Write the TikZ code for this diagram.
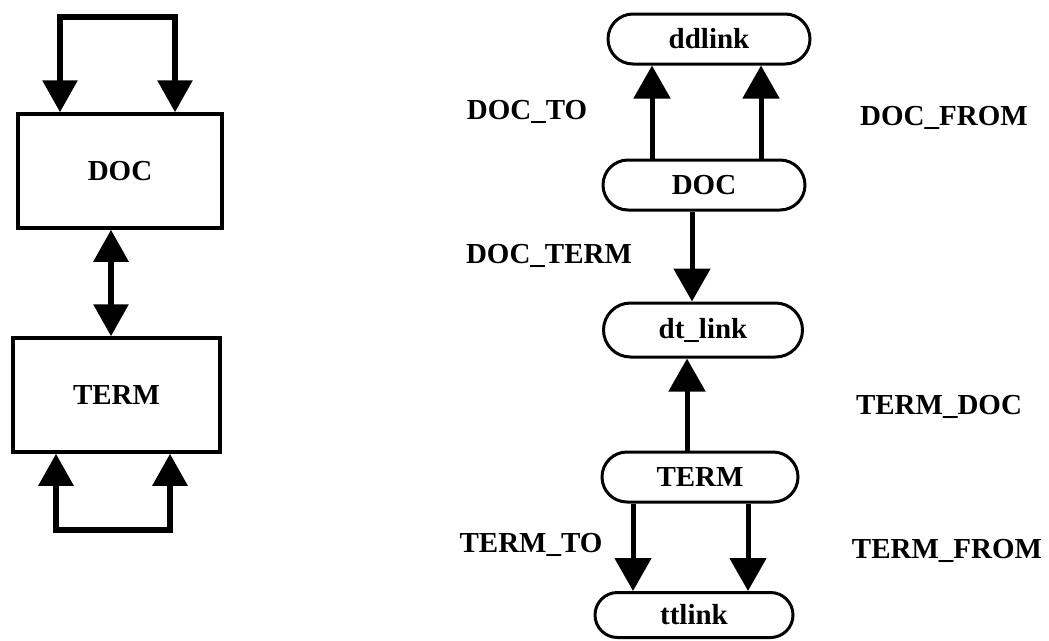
\documentclass[tikz,border=0pt]{standalone}
\usepackage{fontspec}
\setmainfont{Liberation Serif}
\usetikzlibrary{arrows.meta,shapes.misc}
\begin{document}
\begin{tikzpicture}[x=1pt,y=-1pt,
  every node/.style={font=\fontsize{29}{34}\selectfont\bfseries},
  box/.style={draw, line width=3.5pt, minimum width=204pt, minimum height=114pt, inner sep=0pt},
  pill/.style={draw, rounded rectangle, line width=3pt, minimum width=200pt, minimum height=50pt, inner sep=0pt},
  fat/.style={line width=6pt, {Triangle[width=34pt,length=32pt]}-{Triangle[width=34pt,length=32pt]}},
  flow/.style={line width=5pt, -{Triangle[width=36pt,length=33pt]}},
  lbl/.style={inner sep=0pt}
]
\useasboundingbox (0,0) rectangle (1049,640);

% left diagram
\node[box] (docbox) at (120,171) {DOC};
\node[box, minimum width=207pt] (termbox) at (116.5,395) {TERM};
\coordinate (tl) at (60,17);
\coordinate (tr) at (175,17);
\draw[fat] (docbox.north -| tl) -- (tl) -- (tr) -- (docbox.north -| tr);
\coordinate (dm) at (111,280);
\draw[fat] (docbox.south -| dm) -- (termbox.north -| dm);
\coordinate (bl) at (56,530);
\coordinate (br) at (170,530);
\draw[fat] (termbox.south -| bl) -- (bl) -- (br) -- (termbox.south -| br);

% right diagram
\node[pill, minimum width=202pt] (ddlink) at (709,39) {ddlink};
\node[pill, minimum width=202pt] (rdoc) at (704,185) {DOC};
\node[pill, minimum width=199pt, minimum height=54pt] (dtlink) at (703,330) {dt\_link};
\node[pill, minimum width=196pt] (rterm) at (700,477) {TERM};
\node[pill, minimum width=198pt, minimum height=45pt] (ttlink) at (694,615) {ttlink};

\coordinate (a1) at (652,0);
\coordinate (a2) at (761,0);
\coordinate (a3) at (692,0);
\coordinate (a4) at (687,0);
\coordinate (a5) at (633,0);
\coordinate (a6) at (748,0);
\draw[flow] (rdoc.north -| a1) -- (ddlink.south -| a1);
\draw[flow] (rdoc.north -| a2) -- (ddlink.south -| a2);
\draw[flow] (rdoc.south -| a3) -- (dtlink.north -| a3);
\draw[flow] (rterm.north -| a4) -- (dtlink.south -| a4);
\draw[flow] (rterm.south -| a5) -- (ttlink.north -| a5);
\draw[flow] (rterm.south -| a6) -- (ttlink.north -| a6);

% labels
\node[lbl] (ldocto) at (527,112) {DOC\_TO};
\node[lbl] (ldocfrom) at (944,118) {DOC\_FROM};
\node[lbl] (ldocterm) at (549,256) {DOC\_TERM};
\node[lbl] (ltermdoc) at (939,407) {TERM\_DOC};
\node[lbl] (ltermto) at (531,545) {TERM\_TO};
\node[lbl] (ltermfrom) at (947,551) {TERM\_FROM};
\end{tikzpicture}
\end{document}
